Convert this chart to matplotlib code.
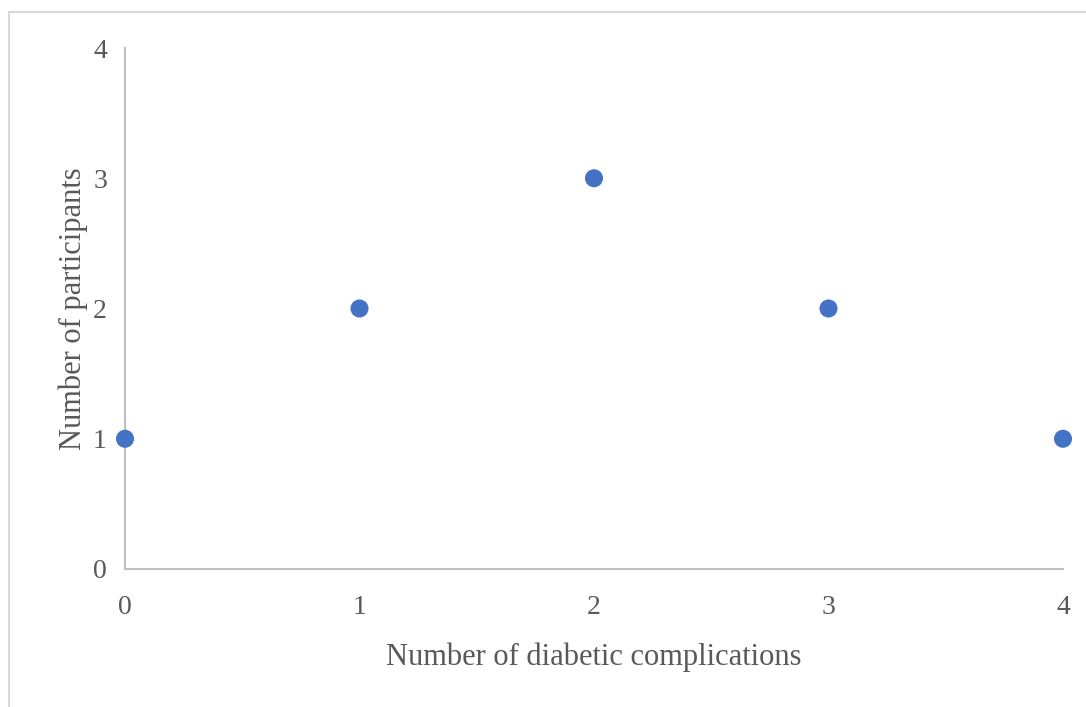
import matplotlib

matplotlib.use("Agg")
import matplotlib.pyplot as plt
from matplotlib.patches import Rectangle

# data
complications = [0, 1, 2, 3, 4]
participants = [1, 2, 3, 2, 1]
x_ticks = [0, 1, 2, 3, 4]
y_ticks = [0, 1, 2, 3, 4]

BLUE = "#4472C4"
AXIS = "#BFBFBF"
TEXT = "#595959"

plt.rcParams["font.family"] = ["Liberation Serif", "DejaVu Serif"]

fig = plt.figure(figsize=(10.86, 7.07), dpi=100)
# light frame around the chart area, like an Excel chart border
fig.patches.append(Rectangle((9 / 1086, -0.01), 1.1, 0.996 - 9 / 707 + 0.01,
                             transform=fig.transFigure, fill=False,
                             edgecolor="#D9D9D9", linewidth=1.5))

ax = fig.add_axes([125 / 1086, 1 - 569 / 707, 938 / 1086, 521 / 707])
ax.scatter(complications, participants, s=13 ** 2, color=BLUE,
           edgecolors="none", zorder=3, clip_on=False)

ax.set_xlim(0, 4)
ax.set_ylim(0, 4)
ax.set_xticks(x_ticks)
ax.set_yticks(y_ticks)
for side in ("top", "right"):
    ax.spines[side].set_visible(False)
for side in ("left", "bottom"):
    ax.spines[side].set_color(AXIS)
    ax.spines[side].set_linewidth(1.5)
ax.tick_params(length=0, labelsize=20, labelcolor=TEXT)
ax.tick_params(axis="x", pad=19)
ax.tick_params(axis="y", pad=13)

ax.set_xlabel("Number of diabetic complications", fontsize=22, color=TEXT,
              labelpad=16)
ax.set_ylabel("Number of participants", fontsize=22, color=TEXT, labelpad=4)

fig.savefig("out.png", dpi=100)
